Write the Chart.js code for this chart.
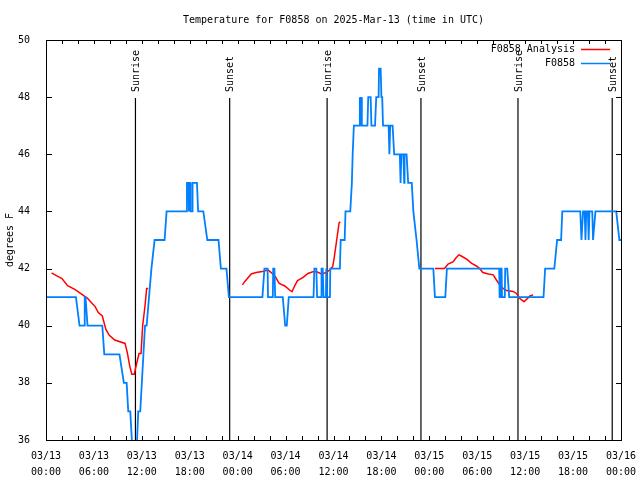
<!DOCTYPE html>
<html>
<head>
<meta charset="utf-8">
<title>F0858 temperature</title>
<script src="https://cdn.jsdelivr.net/npm/chart.js@4.4.1/dist/chart.umd.min.js"></script>
<style>
    html, body { margin: 0; padding: 0; background: #fff; }
    #tempChart { display: block; }
</style>
</head>
<body>
<canvas id="tempChart" width="640" height="480"></canvas>
<script>
// hours after 03/13 00:00 UTC
const obsHours = [0, 3.75, 4.2, 4.8, 4.85, 4.95, 5.2, 7.05, 7.3, 9.2, 9.75, 10.1, 10.3, 10.55, 10.75, 10.9, 11.3, 11.4, 11.55, 11.8, 12.0, 12.2, 12.4, 12.6, 12.9, 13.2, 13.6,
    14.85, 15.1, 17.6, 17.65, 17.85, 17.9, 17.95, 18.05, 18.1, 18.3, 18.35, 18.9, 19.05, 19.7, 20.2, 21.6, 21.9, 22.6, 22.9,
    27.1, 27.35, 27.75, 27.8, 28.4, 28.45, 28.6, 28.7, 29.65, 29.95, 30.15, 30.4, 33.5, 33.6, 33.85, 33.95, 34.45, 34.5, 34.65, 34.75, 35.05, 35.1, 35.2, 35.55, 35.6,
    36.8, 36.9, 37.4, 37.5, 38.1, 38.3, 38.4, 38.55, 39.25, 39.3, 39.35, 39.45, 39.55, 39.6, 40.25, 40.35, 40.65, 40.75, 41.2, 41.35, 41.65, 41.7, 41.9, 42.0, 42.1, 42.2,
    42.9, 43.0, 43.1, 43.4, 43.6, 44.3, 44.4, 44.5, 44.75, 44.85, 44.9, 45.15, 45.35, 45.8, 46.0, 46.4, 46.75,
    48.5, 48.7, 50.0, 50.2, 56.75, 56.8, 56.9, 56.95, 57.05, 57.1, 57.45, 57.5, 57.75, 58.0,
    62.3, 62.5, 63.65, 64.0, 64.5, 64.65, 66.9, 67.05, 67.25, 67.45, 67.55, 67.65, 67.85, 67.95, 68.05, 68.4, 68.5, 68.6, 68.8, 71.4, 71.8, 72]
const obsTemps = [41, 41, 40, 40, 41, 41, 40, 40, 39, 39, 38, 38, 37, 37, 36, 35, 35, 36, 37, 37, 38, 39, 40, 40, 41, 42, 43,
    43, 44, 44, 45, 45, 44, 45, 45, 44, 44, 45, 45, 44, 44, 43, 43, 42, 42, 41,
    41, 42, 42, 41, 41, 42, 42, 41, 41, 40, 40, 41, 41, 42, 42, 41, 41, 42, 42, 41, 41, 42, 41, 41, 42,
    42, 43, 43, 44, 44, 45, 46, 47, 47, 48, 47, 48, 47, 47, 47, 48, 48, 47, 47, 48, 48, 49, 49, 48, 48, 47,
    47, 46, 47, 47, 46, 46, 45, 46, 46, 45, 46, 46, 45, 45, 44, 43, 42,
    42, 41, 41, 42, 42, 41, 41, 42, 42, 41, 41, 42, 42, 41,
    41, 42, 42, 43, 43, 44, 44, 43, 44, 44, 43, 44, 44, 43, 44, 44, 43, 43, 44, 44, 43, 43]

const anaHours = [0.7, 1.3, 2.0, 2.7, 3.6, 4.5, 5.2, 5.7, 6.15, 6.55, 7.05, 7.5, 7.9, 8.6, 9.9, 10.2, 10.5, 10.75, 11.05, 11.4, 11.65, 11.9, 12.1, 12.4, 12.6, 12.8,
    18,
    24.6, 24.9, 25.7, 26.3, 27.1, 27.8, 28.2, 28.7, 29.2, 29.9, 30.5, 30.8, 31.2, 31.5, 32.2, 32.8, 33.4, 33.9, 34.5, 35.1, 35.5, 35.9, 36.1, 36.4, 36.7, 36.85,
    42,
    48.7, 49.9, 50.35, 51.0, 51.3, 51.7, 52.0, 52.66, 53.3, 53.9, 54.3, 54.7, 55.4, 56.0, 56.4, 56.8, 57.25, 57.7, 58.5, 58.9, 59.3, 59.85, 60.2, 60.6, 61.0]
const anaTemps = [41.85, 41.75, 41.65, 41.4, 41.27, 41.1, 40.96, 40.8, 40.67, 40.46, 40.34, 39.87, 39.67, 39.5, 39.38, 39.03, 38.57, 38.3, 38.3, 38.74, 39.03, 39.03, 39.99, 40.7, 41.3, 41.3,
    null,
    41.43, 41.55, 41.81, 41.86, 41.9, 41.95, 41.86, 41.72, 41.48, 41.39, 41.25, 41.19, 41.43, 41.58, 41.69, 41.83, 41.89, 41.89, 41.81, 41.86, 41.95, 42.07, 42.4, 43.0, 43.6, 43.64,
    null,
    42.0, 42.0, 42.16, 42.24, 42.36, 42.48, 42.44, 42.33, 42.18, 42.09, 42.0, 41.86, 41.81, 41.78, 41.6, 41.43, 41.3, 41.23, 41.2, 41.13, 40.96, 40.84, 40.93, 41.04, 41.08]

const sunriseHours = [11.2, 35.2, 59.1]
const sunsetHours = [23.0, 46.95, 70.9]

const xTickHours = [0, 6, 12, 18, 24, 30, 36, 42, 48, 54, 60, 66, 72]
const yTickValues = [36, 38, 40, 42, 44, 46, 48, 50]

const fontFamily = '"DejaVu Sans Mono", "Liberation Mono", monospace'
const redColor = 'rgb(255, 0, 0)'
const blueColor = 'rgb(0, 128, 255)'

function pad2(n) {
    return (n < 10 ? '0' : '') + n
}

function xLabel(h) {
    const day = 13 + Math.floor(h / 24)
    const hr = h % 24
    return ['03/' + pad2(day), pad2(hr) + ':00']
}

// frame, inward ticks, sun lines, legend and titles in gnuplot style
const gnuplotDecor = {
    id: 'gnuplotDecor',
    beforeDatasetsDraw(chart) {
        const ctx = chart.ctx
        const area = chart.chartArea
        const x = chart.scales.x
        ctx.save()
        ctx.strokeStyle = '#000'
        ctx.fillStyle = '#000'
        ctx.lineWidth = 1.2
        ctx.font = '10px ' + fontFamily

        const marks = []
        sunriseHours.forEach(h => marks.push([h, 'Sunrise']))
        sunsetHours.forEach(h => marks.push([h, 'Sunset']))
        marks.forEach(m => {
            const px = x.getPixelForValue(m[0])
            ctx.beginPath()
            ctx.moveTo(px, 98)
            ctx.lineTo(px, area.bottom)
            ctx.stroke()
            ctx.save()
            ctx.translate(px + 1, 92)
            ctx.rotate(-Math.PI / 2)
            ctx.textAlign = 'left'
            ctx.textBaseline = 'middle'
            ctx.fillText(m[1], 0, 0)
            ctx.restore()
        })
        ctx.restore()
    },
    afterDraw(chart) {
        const ctx = chart.ctx
        const area = chart.chartArea
        const x = chart.scales.x
        const y = chart.scales.y
        ctx.save()
        ctx.strokeStyle = '#000'
        ctx.lineWidth = 1

        ctx.strokeRect(Math.round(area.left) + 0.5, Math.round(area.top) + 0.5,
            Math.round(area.right - area.left), Math.round(area.bottom - area.top))

        ctx.beginPath()
        for (let h = 0; h <= 72; h += 2) {
            const px = Math.round(x.getPixelForValue(h)) + 0.5
            ctx.moveTo(px, area.bottom)
            ctx.lineTo(px, area.bottom - 4)
            ctx.moveTo(px, area.top)
            ctx.lineTo(px, area.top + 4)
        }
        yTickValues.forEach(v => {
            const py = Math.round(y.getPixelForValue(v)) + 0.5
            ctx.moveTo(area.left, py)
            ctx.lineTo(area.left + 6, py)
            ctx.moveTo(area.right, py)
            ctx.lineTo(area.right - 5, py)
        })
        ctx.stroke()

        ctx.fillStyle = '#000'
        ctx.font = '10px ' + fontFamily
        ctx.textBaseline = 'middle'
        ctx.textAlign = 'center'
        ctx.fillText('Temperature for F0858 on 2025-Mar-13 (time in UTC)', (area.left + area.right) / 2, 20)

        ctx.save()
        ctx.translate(10, (area.top + area.bottom) / 2)
        ctx.rotate(-Math.PI / 2)
        ctx.fillText('degrees F', 0, 0)
        ctx.restore()

        // legend
        const rows = [[chart.data.datasets[0].label, redColor, 49], [chart.data.datasets[1].label, blueColor, 63]]
        rows.forEach(r => {
            ctx.textAlign = 'right'
            ctx.fillStyle = '#000'
            ctx.fillText(r[0], 575, r[2])
            ctx.strokeStyle = r[1]
            ctx.lineWidth = 1.5
            ctx.beginPath()
            ctx.moveTo(581, r[2] + 0.5)
            ctx.lineTo(610, r[2] + 0.5)
            ctx.stroke()
        })
        ctx.restore()
    }
}

const anaPoints = anaHours.map((h, i) => ({ x: h, y: anaTemps[i] }))
const obsPoints = obsHours.map((h, i) => ({ x: h, y: obsTemps[i] }))

const config = {
    type: 'line',
    data: {
        datasets: [{
            label: 'F0858 Analysis',
            data: anaPoints,
            borderColor: redColor,
            borderWidth: 1.5,
            pointRadius: 0,
            tension: 0,
            spanGaps: false,
            order: 1
        }, {
            label: 'F0858',
            data: obsPoints,
            borderColor: blueColor,
            borderWidth: 1.8,
            pointRadius: 0,
            tension: 0,
            order: 0
        }]
    },
    options: {
        responsive: false,
        animation: false,
        layout: { padding: { left: 0, right: 19, top: 40, bottom: 0 } },
        plugins: {
            legend: { display: false },
            title: { display: false },
            tooltip: { enabled: false }
        },
        scales: {
            x: {
                type: 'linear',
                min: 0,
                max: 72,
                grid: { display: false },
                border: { display: false },
                afterBuildTicks: scale => {
                    scale.ticks = xTickHours.map(v => ({ value: v }))
                },
                afterFit: scale => {
                    scale.height = 40
                },
                ticks: {
                    autoSkip: false,
                    maxRotation: 0,
                    padding: 0,
                    color: '#000',
                    font: { family: fontFamily, size: 10, lineHeight: 1.6 },
                    callback: v => xLabel(v)
                }
            },
            y: {
                min: 36,
                max: 50,
                grid: { display: false },
                border: { display: false },
                afterBuildTicks: scale => {
                    scale.ticks = yTickValues.map(v => ({ value: v }))
                },
                afterFit: scale => {
                    scale.width = 46
                },
                ticks: {
                    padding: 8,
                    color: '#000',
                    font: { family: fontFamily, size: 10 }
                }
            }
        }
    },
    plugins: [gnuplotDecor]
}

let tempChart = new Chart(document.querySelector('#tempChart'), config)
</script>
</body>
</html>
